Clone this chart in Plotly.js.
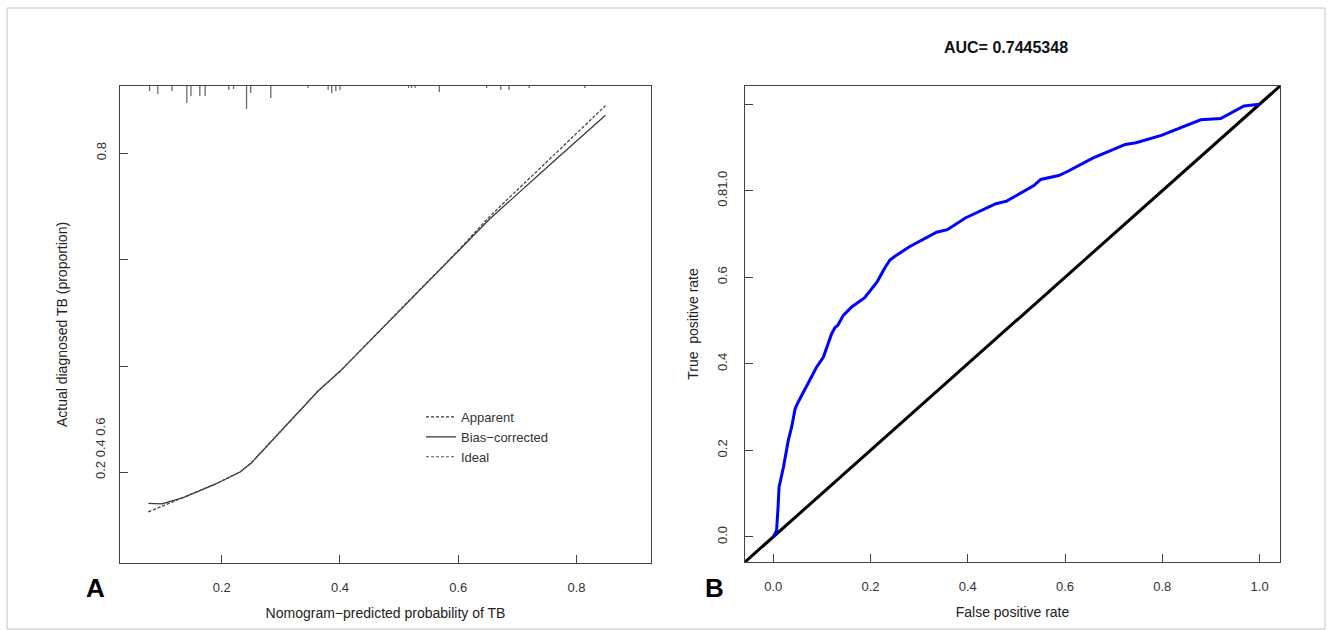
<!DOCTYPE html>
<html><head><meta charset="utf-8">
<script src="https://cdn.plot.ly/plotly-3.0.1.min.js"></script>
<style>html,body{margin:0;padding:0;background:#fff}#chart{width:1332px;height:630px}</style>
</head><body><div id="chart"></div>
<script>
// ---------- Panel A: calibration curve ----------
const biasX = [0.076, 0.099, 0.135, 0.189, 0.231, 0.250, 0.363, 0.400, 0.501, 0.600, 0.654, 0.755, 0.799, 0.849];
const biasY = [0.142, 0.141, 0.153, 0.178, 0.201, 0.218, 0.353, 0.390, 0.504, 0.615, 0.677, 0.778, 0.822, 0.871];
const apparentX = [0.076, 0.104, 0.135, 0.189, 0.231, 0.250, 0.363, 0.400, 0.501, 0.600, 0.654, 0.755, 0.799, 0.849];
const apparentY = [0.126, 0.139, 0.153, 0.178, 0.201, 0.218, 0.353, 0.390, 0.505, 0.617, 0.682, 0.789, 0.835, 0.889];
const idealX = apparentX;
const idealY = apparentY;
// rug of predicted probabilities (top of panel A)
const rugX = [0.078, 0.092, 0.116, 0.141, 0.148, 0.163, 0.172, 0.212, 0.220, 0.242, 0.249, 0.283, 0.346, 0.380, 0.386, 0.393, 0.400, 0.516, 0.521, 0.527, 0.568, 0.648, 0.672, 0.686, 0.720, 0.814];
const rugLen = [5, 8, 5, 17, 10, 10, 10, 4, 3, 23, 7, 12, 2, 4, 7, 5, 4, 2, 2, 2, 6, 2, 4, 4, 2, 2];
const axisA_ticks = [0.2, 0.4, 0.6, 0.8];
const axisA_xlabels = ['0.2', '0.4', '0.6', '0.8'];
const axisA_ylabels = ['', '', '', '0.8'];
const axisA_stackedLabel = '0.2 0.4 0.6';

// ---------- Panel B: ROC curve ----------
const fpr = [0, 0.007, 0.010, 0.012, 0.021, 0.031, 0.038, 0.045, 0.052, 0.079, 0.089, 0.103, 0.113, 0.120, 0.127, 0.133, 0.144, 0.162, 0.188, 0.214, 0.229, 0.240, 0.251, 0.262, 0.281, 0.336, 0.358, 0.395, 0.458, 0.480, 0.536, 0.550, 0.587, 0.606, 0.658, 0.724, 0.746, 0.798, 0.879, 0.920, 0.968, 1.0];
const tpr = [0, 0.015, 0.069, 0.115, 0.161, 0.223, 0.254, 0.296, 0.313, 0.369, 0.392, 0.415, 0.446, 0.469, 0.484, 0.489, 0.512, 0.532, 0.553, 0.590, 0.621, 0.640, 0.649, 0.657, 0.671, 0.704, 0.710, 0.737, 0.770, 0.776, 0.812, 0.826, 0.835, 0.845, 0.876, 0.907, 0.911, 0.928, 0.964, 0.967, 0.996, 1.0];
const diagX = [-0.2, 1.2];
const diagY = [-0.2, 1.2];
const axisB_ticks = [0, 0.2, 0.4, 0.6, 0.8, 1.0];
const axisB_xlabels = ['0.0', '0.2', '0.4', '0.6', '0.8', '1.0'];
const axisB_ylabels = ['0.0', '0.2', '0.4', '0.6', '0.81.0', ''];
const aucText = 'AUC= 0.7445348';

// ---------- layout helpers ----------
const W = 1332, H = 630;
const FONT = 'Liberation Sans, Arial, sans-serif';
const AX = '#444';
const px = p => p / W;
const py = p => 1 - p / H;

const rugXs = [], rugYs = [];
rugX.forEach((v, i) => { rugXs.push(v, v, null); rugYs.push(0, rugLen[i], null); });

const lineCol = '#3a3a3a';
const traces = [
  {x: apparentX, y: apparentY, name: 'Apparent', mode: 'lines', xaxis: 'x', yaxis: 'y',
   line: {color: lineCol, width: 1.2, dash: '3px,2px'}},
  {x: biasX, y: biasY, name: 'Bias\u2212corrected', mode: 'lines', xaxis: 'x', yaxis: 'y',
   line: {color: lineCol, width: 1.3}},
  {x: idealX, y: idealY, name: 'Ideal', mode: 'lines', xaxis: 'x', yaxis: 'y',
   line: {color: '#555', width: 1.0, dash: '3px,2px'}},
  {x: rugXs, y: rugYs, mode: 'lines', xaxis: 'x', yaxis: 'y3', showlegend: false,
   line: {color: '#6a6a6a', width: 1.3}, hoverinfo: 'skip'},
  {x: diagX, y: diagY, mode: 'lines', xaxis: 'x2', yaxis: 'y2', showlegend: false,
   line: {color: '#000', width: 3}},
  {x: fpr, y: tpr, mode: 'lines', xaxis: 'x2', yaxis: 'y2', showlegend: false,
   line: {color: '#0000ff', width: 3}}
];

const tickfont = {family: FONT, size: 13, color: '#333'};
const baseAxis = {
  showgrid: false, zeroline: false, showline: true, linecolor: AX, linewidth: 1,
  mirror: true, ticks: 'inside', ticklen: 8, tickcolor: AX, tickwidth: 1, tickfont: tickfont
};
const titleFont = {family: FONT, size: 14, color: '#222'};

const layout = {
  width: W, height: H,
  margin: {l: 0, r: 0, t: 0, b: 0},
  paper_bgcolor: '#fff', plot_bgcolor: '#fff',
  showlegend: true,
  legend: {x: px(421), y: py(402), xanchor: 'left', yanchor: 'top',
           font: {family: FONT, size: 13, color: '#333'}, bgcolor: 'rgba(0,0,0,0)',
           borderwidth: 0, itemwidth: 30, tracegroupgap: 0},
  title: {text: '<b>' + aucText + '</b>', x: px(1006), y: py(47), xanchor: 'center', yanchor: 'middle',
          xref: 'paper', yref: 'paper', font: {family: FONT, size: 16, color: '#111'}},
  xaxis: Object.assign({}, baseAxis, {
    domain: [px(120), px(651)], range: [0.028, 0.926], anchor: 'y',
    tickvals: axisA_ticks, ticktext: axisA_xlabels, ticklabelstandoff: 12,
    title: {text: 'Nomogram\u2212predicted probability of TB', font: titleFont, standoff: 14}
  }),
  yaxis: Object.assign({}, baseAxis, {
    domain: [py(563), py(86)], range: [0.030, 0.926], anchor: 'x',
    tickvals: axisA_ticks, ticktext: axisA_ylabels, tickangle: -90, ticklabelstandoff: 8,
    title: {text: 'Actual diagnosed TB (proportion)', font: titleFont, standoff: 22}
  }),
  yaxis3: {overlaying: 'y', anchor: 'x', range: [477, 0], visible: false, showgrid: false, zeroline: false},
  xaxis2: Object.assign({}, baseAxis, {
    domain: [px(745), px(1280)], range: [-0.058, 1.042], anchor: 'y2',
    tickvals: axisB_ticks, ticktext: axisB_xlabels, ticklabelstandoff: 12,
    title: {text: 'False positive rate', font: titleFont, standoff: 14}
  }),
  yaxis2: Object.assign({}, baseAxis, {
    domain: [py(562), py(86)], range: [-0.058, 1.042], anchor: 'x2',
    tickvals: axisB_ticks, ticktext: axisB_ylabels, tickangle: -90, ticklabelstandoff: 12,
    title: {text: 'True  positive rate', font: titleFont, standoff: 12}
  }),
  annotations: [
    {text: axisA_stackedLabel, xref: 'paper', yref: 'paper', x: px(100), y: py(449), showarrow: false,
     textangle: -90, font: tickfont, xanchor: 'center', yanchor: 'middle'},
    {text: '<b>A</b>', xref: 'paper', yref: 'paper', x: px(95), y: py(588), showarrow: false,
     font: {family: FONT, size: 26, color: '#000'}, xanchor: 'center', yanchor: 'middle'},
    {text: '<b>B</b>', xref: 'paper', yref: 'paper', x: px(714), y: py(588), showarrow: false,
     font: {family: FONT, size: 26, color: '#000'}, xanchor: 'center', yanchor: 'middle'}
  ],
  shapes: [
    {type: 'rect', xref: 'paper', yref: 'paper', x0: px(7), x1: px(1325), y0: py(629), y1: py(8),
     line: {color: '#c4c4c4', width: 1}, fillcolor: 'rgba(0,0,0,0)', layer: 'below'}
  ]
};

Plotly.newPlot('chart', traces, layout, {staticPlot: true, displayModeBar: false});
</script>
</body></html>
